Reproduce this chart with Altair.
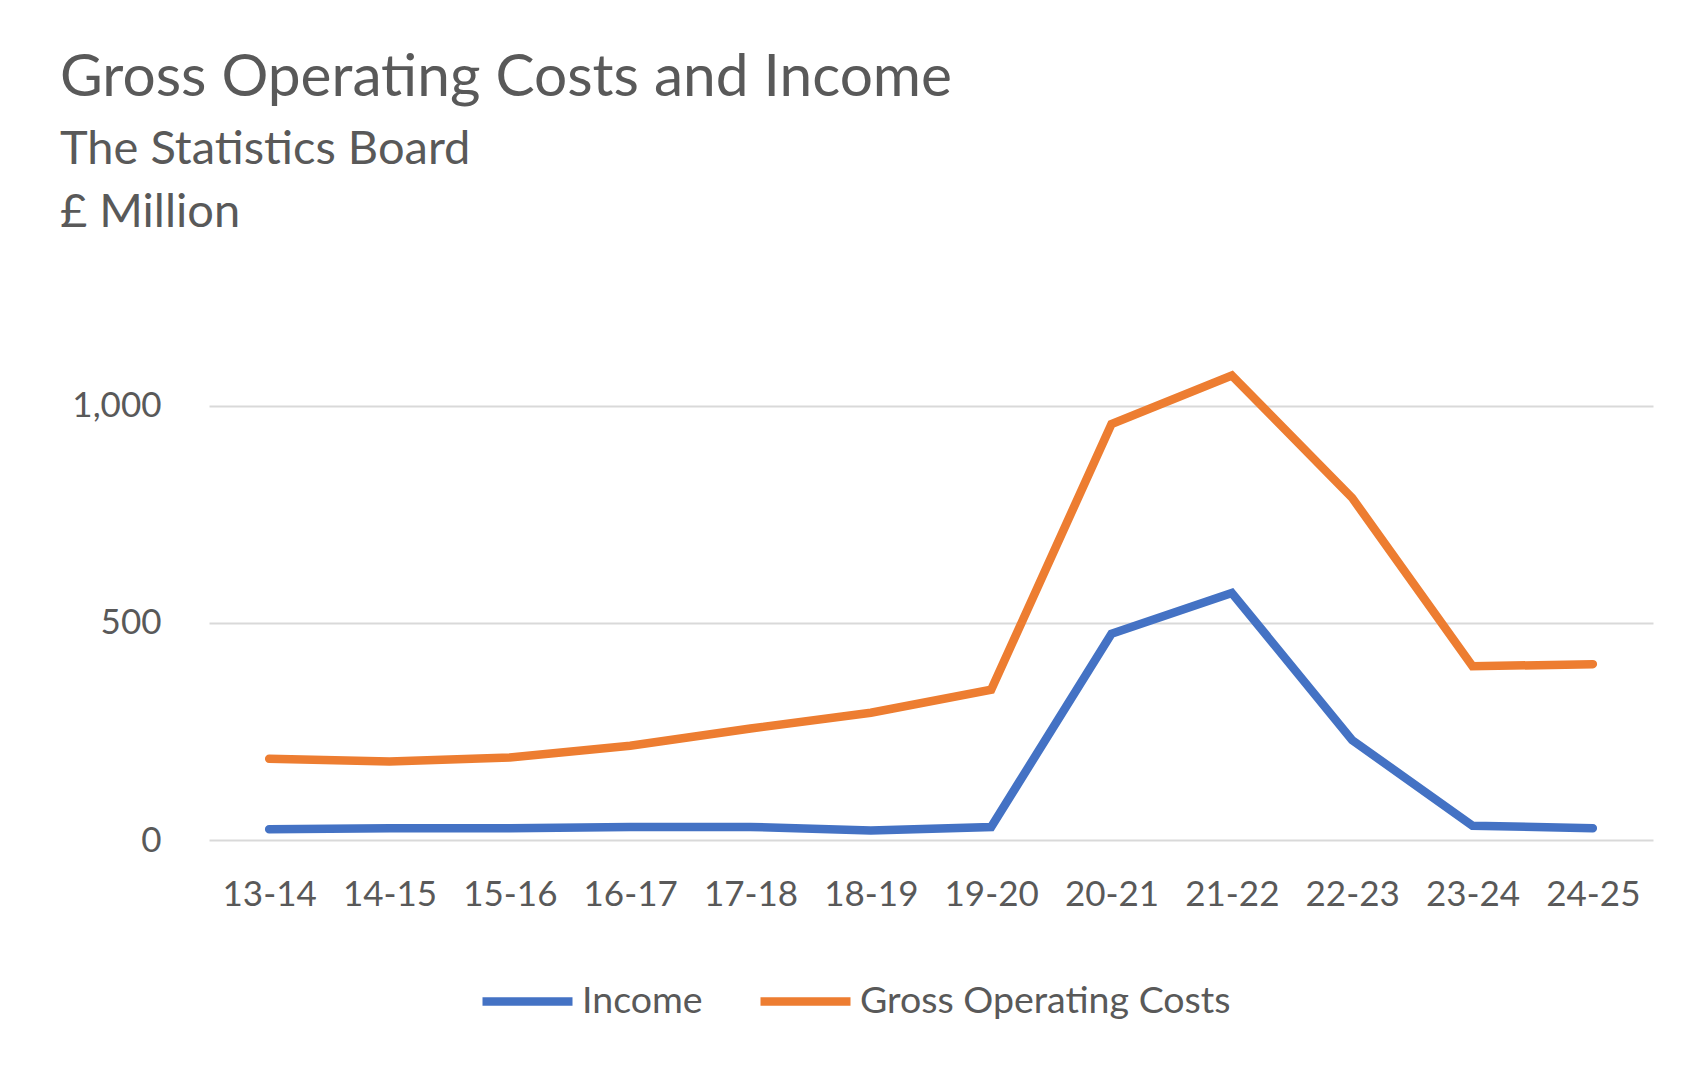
import altair as alt
import pandas as pd

years = ["13-14", "14-15", "15-16", "16-17", "17-18", "18-19", "19-20",
         "20-21", "21-22", "22-23", "23-24", "24-25"]
income = [25, 27, 27, 30, 30, 22, 30, 475, 569, 230, 33, 27]
gross_costs = [187, 181, 190, 217, 257, 293, 346, 958, 1070, 788, 400, 405]

series_names = ["Income", "Gross Operating Costs"]
series_colors = ["#4472C4", "#ED7D31"]

rows = []
for i, y in enumerate(years):
    rows.append({"year": y, "series": "Income", "value": income[i], "order": i})
    rows.append({"year": y, "series": "Gross Operating Costs", "value": gross_costs[i], "order": i})
df = pd.DataFrame(rows)

TEXT = "#595959"
FONT = "Lato"

chart = alt.Chart(df).mark_line(strokeWidth=8.5, strokeCap="round", strokeJoin="miter").encode(
    x=alt.X("year:N", sort=years, title=None,
            scale=alt.Scale(type="point", padding=0.5),
            axis=alt.Axis(labelAngle=0, domain=False, ticks=False, grid=False,
                          labelFont=FONT, labelFontSize=35, labelColor=TEXT,
                          labelPadding=37)),
    y=alt.Y("value:Q", title=None,
            scale=alt.Scale(domain=[0, 1200], nice=False),
            axis=alt.Axis(values=[0, 500, 1000], format=",.0f", domain=False, ticks=False,
                          grid=True, gridColor="#D9D9D9", gridWidth=2,
                          labelFont=FONT, labelFontSize=35, labelColor=TEXT,
                          labelPadding=48)),
    color=alt.Color("series:N", sort=series_names,
                    scale=alt.Scale(domain=series_names, range=series_colors),
                    legend=alt.Legend(title=None, orient="none", direction="horizontal",
                                      legendX=269, legendY=633,
                                      symbolType="stroke", symbolSize=8100,
                                      symbolStrokeWidth=8.5, labelFont=FONT,
                                      labelFontSize=37.5, labelColor=TEXT, labelLimit=0,
                                      labelOffset=5, columnPadding=40, padding=0)),
    order="order:Q",
).properties(
    width=1444,
    height=521,
    padding={"left": 201, "top": 311, "right": 41, "bottom": 200},
    autosize=alt.AutoSizeParams(type="none"),
    title=alt.TitleParams(
        text="Gross Operating Costs and Income",
        subtitle=["The Statistics Board", "£ Million"],
        anchor="start", frame="group", dx=-149, offset=82,
        font=FONT, fontSize=58.6, fontWeight="normal", color=TEXT,
        subtitleFont=FONT, subtitleFontSize=47, subtitleColor=TEXT,
        subtitlePadding=18, subtitleLineHeight=63,
    ),
).configure(background="white").configure_view(stroke=None)

chart.save("out.html", embed_options={"renderer": "svg", "actions": False})
